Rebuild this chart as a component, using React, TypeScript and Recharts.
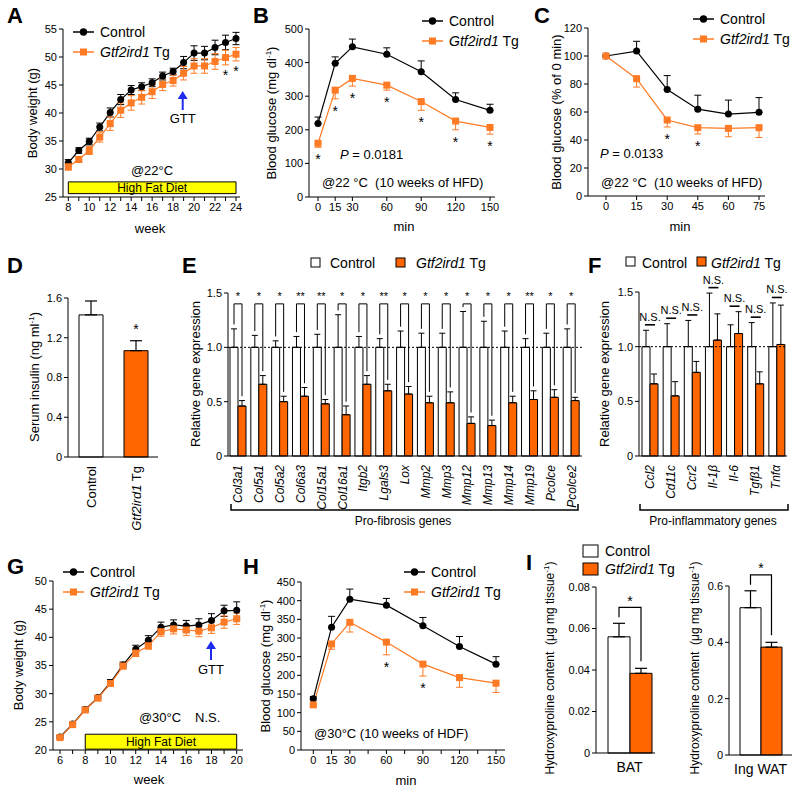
import React from 'react';
import {
  ComposedChart,
  Line,
  Bar,
  Cell,
  XAxis,
  YAxis,
  ErrorBar,
  LabelList,
  ReferenceArea,
  ReferenceLine,
} from 'recharts';

const FONT = '"Liberation Sans", Arial, Helvetica, sans-serif';
const ORANGE = '#ff7a24';
const BAR_ORANGE = '#ff6600';
const BLUE = '#1e2cf0';

// A - body weight at 22 °C
const weeksA = [8, 9, 10, 11, 12, 13, 14, 15, 16, 17, 18, 19, 20, 21, 22, 23, 24];
const controlA = [31.1, 33.3, 34.9, 37.5, 40.1, 42.4, 44.1, 44.7, 45.4, 46.6, 47.4, 49.0, 50.7, 50.7, 51.7, 52.6, 53.3];
const controlAErr = [0.6, 0.5, 0.6, 0.7, 0.8, 0.9, 0.8, 0.7, 0.7, 0.7, 0.6, 1.1, 1.3, 1.2, 1.3, 1.3, 1.1];
const tgA = [30.4, 31.7, 33.3, 35.7, 38.1, 40.5, 41.8, 42.8, 43.8, 45.1, 45.8, 47.1, 48.4, 48.4, 49.2, 49.9, 50.5];
const tgAErr = [0.6, 0.5, 0.7, 0.9, 1.2, 1.3, 1.3, 1.2, 1.2, 1.1, 1.0, 1.2, 1.3, 1.3, 1.4, 1.3, 1.2];
const sigA = ['', '', '', '', '', '', '', '', '', '', '', '', '', '', '', '*', '*'];

// B - GTT at 22 °C
const minB = [0, 15, 30, 60, 90, 120, 150];
const controlB = [219, 398, 447, 425, 373, 290, 258];
const controlBErr = [19, 19, 23, 19, 32, 20, 18];
const tgB = [160, 318, 353, 333, 284, 226, 207];
const tgBErr = [12, 26, 23, 15, 26, 26, 20];
const sigB = ['*', '*', '*', '*', '*', '*', '*'];

// C - ITT at 22 °C
const minC = [0, 15, 30, 45, 60, 75];
const controlC = [100, 103.5, 76, 62, 58.5, 59.8];
const controlCErr = [0, 7, 10, 10, 10, 10.5];
const tgC = [100, 83.8, 54.3, 48.8, 48.3, 48.8];
const tgCErr = [0, 6, 5, 4.5, 6, 7];
const sigC = ['', '', '*', '*', '', ''];

// D - serum insulin
const groupsD = ['Control', 'Gtf2ird1 Tg'];
const insulinD = [1.43, 1.07];
const insulinDErr = [0.14, 0.1];
const sigD = ['', '*'];

// E - pro-fibrosis genes
const genesE = ['Col3a1', 'Col5a1', 'Col5a2', 'Col6a3', 'Col15a1', 'Col16a1', 'Itgb2', 'Lgals3', 'Lox', 'Mmp2', 'Mmp3', 'Mmp12', 'Mmp13', 'Mmp14', 'Mmp19', 'Pcolce', 'Pcolce2'];
const controlE = [1, 1, 1, 1, 1, 1, 1, 1, 1, 1, 1, 1, 1, 1, 1, 1, 1];
const controlEErr = [0.17, 0.11, 0.06, 0.1, 0.12, 0.3, 0.1, 0.08, 0.15, 0.13, 0.13, 0.33, 0.24, 0.15, 0.08, 0.13, 0.17];
const tgE = [0.46, 0.66, 0.5, 0.55, 0.48, 0.38, 0.66, 0.6, 0.57, 0.49, 0.49, 0.3, 0.28, 0.49, 0.52, 0.54, 0.51];
const tgEErr = [0.05, 0.08, 0.05, 0.08, 0.04, 0.08, 0.08, 0.06, 0.07, 0.06, 0.1, 0.06, 0.05, 0.06, 0.08, 0.07, 0.03];
const sigE = ['*', '*', '*', '**', '**', '*', '*', '**', '*', '*', '*', '*', '*', '*', '**', '*', '*'];

// F - pro-inflammatory genes
const genesF = ['Ccl2', 'Cd11c', 'Ccr2', 'Il-1β', 'Il-6', 'Tgfβ1', 'Tnfα'];
const controlF = [1, 1, 1, 1, 1, 1, 1];
const controlFErr = [0.15, 0.21, 0.24, 0.49, 0.2, 0.22, 0.4];
const tgF = [0.66, 0.55, 0.765, 1.06, 1.12, 0.66, 1.02];
const tgFErr = [0.09, 0.13, 0.1, 0.24, 0.2, 0.11, 0.36];
const sigF = ['N.S.', 'N.S.', 'N.S.', 'N.S.', 'N.S.', 'N.S.', 'N.S.'];

// G - body weight at 30 °C
const weeksG = [6, 7, 8, 9, 10, 11, 12, 13, 14, 15, 16, 17, 18, 19, 20];
const controlG = [22.3, 24.6, 27.2, 29.3, 32.0, 35.1, 37.9, 39.5, 41.8, 42.2, 42.0, 42.2, 43.0, 44.7, 44.8];
const controlGErr = [0.3, 0.3, 0.4, 0.4, 0.5, 0.5, 0.7, 0.8, 0.9, 0.9, 1.0, 1.1, 1.2, 1.0, 1.5];
const tgG = [22.2, 24.5, 27.1, 29.2, 31.8, 34.9, 37.2, 38.5, 41.0, 41.5, 41.3, 41.1, 41.7, 42.7, 43.3];
const tgGErr = [0.3, 0.3, 0.4, 0.4, 0.5, 0.5, 0.6, 0.6, 0.8, 0.9, 1.0, 1.0, 1.0, 1.1, 1.0];
const sigG = weeksG.map(() => '');

// H - GTT at 30 °C
const minH = [0, 15, 30, 60, 90, 120, 150];
const controlH = [137, 329, 404, 388, 333, 277, 230];
const controlHErr = [6, 29, 27, 18, 22, 27, 20];
const tgH = [121, 284, 342, 289, 230, 194, 179];
const tgHErr = [6, 14, 26, 34, 32, 26, 25];
const sigH = ['', '', '', '*', '*', '', ''];

// I - hydroxyproline
const tissuesI = ['BAT', 'Ing WAT'];
const controlI = [0.056, 0.523];
const controlIErr = [0.0065, 0.06];
const tgI = [0.0384, 0.383];
const tgIErr = [0.0024, 0.017];
const sigI = ['*', '*'];

type Plot = { x0: number; x1: number; y0: number; y1: number };

// place a chart so that its plot area lands on the given page rectangle
const frame = (p: Plot, yw: number, xh: number, mt = 8, mr = 8) => ({
  pos: { position: 'absolute' as const, left: p.x0 - yw, top: p.y0 - mt },
  width: p.x1 - p.x0 + yw + mr,
  height: p.y1 - p.y0 + mt + xh,
  margin: { top: mt, right: mr, left: 0, bottom: 0 },
});

const axisLine = { stroke: '#000', strokeWidth: 1 };
const tickFont = { fontSize: 11, fill: '#000' };
const rectOf = (l: any) => l.viewBox ?? l;

const circleDot = (d: any) => <circle key={`c-${d.index}`} cx={d.cx} cy={d.cy} r={3.5} fill="#000" />;
const squareDot = (d: any) => (
  <rect key={`s-${d.index}`} x={d.cx - 3.5} y={d.cy - 3.5} width={7} height={7} fill={ORANGE} />
);

type LineProps = {
  p: Plot;
  xs: number[];
  ctrl: number[];
  ctrlErr: number[];
  tg: number[];
  tgErr: number[];
  sig: string[];
  xDomain: [number, number];
  xTicks: number[];
  labelled: number[];
  xPad: { left: number; right: number };
  yDomain: [number, number];
  yTicks: number[];
  twoSided?: boolean;
  starGap?: number;
  band?: { x1: number; x2: number; y1: number; y2: number };
};

function LinePanel(props: LineProps) {
  const { p, xs, ctrl, ctrlErr, tg, tgErr, sig, xDomain, xTicks, labelled, xPad, yDomain, yTicks, twoSided, band } = props;
  const starGap = props.starGap ?? 9;
  const rows = xs.map((x, i) => ({
    x,
    i,
    c: ctrl[i],
    t: tg[i],
    ce: twoSided ? ctrlErr[i] : [0, ctrlErr[i]],
    te: twoSided ? tgErr[i] : [tgErr[i], 0],
  }));
  const ppu = (p.y1 - p.y0) / (yDomain[1] - yDomain[0]);
  const f = frame(p, 32, 30);

  const Star = (l: any) => {
    const i = l.value;
    if (!sig[i]) return null;
    const r = rectOf(l);
    const cy = r.y + tgErr[i] * ppu + starGap;
    return (
      <text x={r.x} y={cy + 7.7} textAnchor="middle" fontSize={14} fill="#000">
        {sig[i]}
      </text>
    );
  };

  return (
    <div style={f.pos}>
      <ComposedChart width={f.width} height={f.height} margin={f.margin} data={rows}>
        <XAxis
          type="number"
          dataKey="x"
          domain={xDomain}
          ticks={xTicks}
          interval={0}
          tickFormatter={(v: number) => (labelled.includes(v) ? String(v) : '')}
          padding={xPad}
          axisLine={axisLine}
          tickLine={axisLine}
          tickSize={4}
          tick={tickFont}
          height={30}
        />
        <YAxis
          type="number"
          domain={yDomain}
          ticks={yTicks}
          interval={0}
          width={32}
          axisLine={axisLine}
          tickLine={axisLine}
          tickSize={4}
          tick={tickFont}
        />
        {band && (
          <ReferenceArea
            x1={band.x1}
            x2={band.x2}
            y1={band.y1}
            y2={band.y2}
            fill="#ffff00"
            fillOpacity={1}
            stroke="#000"
            strokeWidth={1}
            label={{ value: 'High Fat Diet', position: 'center', fill: '#000', fontSize: 12 }}
          />
        )}
        <Line
          dataKey="c"
          stroke="#000"
          strokeWidth={1.2}
          dot={circleDot}
          activeDot={false}
          isAnimationActive={false}
        >
          <ErrorBar dataKey="ce" width={3.5} stroke="#000" strokeWidth={1} direction="y" />
        </Line>
        <Line
          dataKey="t"
          stroke={ORANGE}
          strokeWidth={1.2}
          dot={squareDot}
          activeDot={false}
          isAnimationActive={false}
        >
          <ErrorBar dataKey="te" width={3.5} stroke={ORANGE} strokeWidth={1} direction="y" />
          <LabelList dataKey="i" content={Star} />
        </Line>
      </ComposedChart>
    </div>
  );
}

const fmt = (digits: number) => (v: number) => (v === 0 ? '0' : v.toFixed(digits));

const GeneTick = (t: any) => (
  <text
    transform={`translate(${t.x + 4},${t.y + 3}) rotate(-90)`}
    textAnchor="end"
    fontSize={12}
    fontStyle="italic"
    fill="#000"
  >
    {t.payload.value}
  </text>
);

const GroupTick = (t: any) => (
  <text transform={`translate(${t.x + 5},${t.y + 3}) rotate(-90)`} textAnchor="end" fontSize={13} fill="#000">
    {t.payload.value === 'Control' ? (
      'Control'
    ) : (
      <>
        <tspan fontStyle="italic">Gtf2ird1</tspan> Tg
      </>
    )}
  </text>
);

function PanelD() {
  const p = { x0: 68, x1: 158, y0: 298, y1: 457 };
  const f = frame(p, 32, 100);
  const rows = groupsD.map((g, i) => ({ name: g, i, v: insulinD[i], e: [0, insulinDErr[i]] }));
  const Star = (l: any) => {
    const i = l.value;
    if (!sigD[i]) return null;
    const r = rectOf(l);
    const top = r.y - insulinDErr[i] * (r.height / insulinD[i]);
    return (
      <text x={r.x + r.width / 2} y={top - 14 + 7.7} textAnchor="middle" fontSize={14}>
        {sigD[i]}
      </text>
    );
  };
  return (
    <div style={f.pos}>
      <ComposedChart width={f.width} height={f.height} margin={f.margin} data={rows}>
        <XAxis dataKey="name" interval={0} tickLine={false} axisLine={axisLine} tickSize={4} tick={GroupTick} height={100} />
        <YAxis
          domain={[0, 1.6]}
          ticks={[0, 0.4, 0.8, 1.2, 1.6]}
          interval={0}
          tickFormatter={fmt(1)}
          width={32}
          axisLine={axisLine}
          tickLine={axisLine}
          tickSize={4}
          tick={tickFont}
        />
        <Bar dataKey="v" barSize={24} stroke="#000" strokeWidth={1} isAnimationActive={false}>
          {rows.map((r) => (
            <Cell key={r.name} fill={r.i === 0 ? '#fff' : BAR_ORANGE} />
          ))}
          <ErrorBar dataKey="e" width={6} stroke="#000" strokeWidth={1.2} direction="y" />
          <LabelList dataKey="i" content={Star} />
        </Bar>
      </ComposedChart>
    </div>
  );
}

function PanelE() {
  const p = { x0: 228, x1: 582, y0: 293, y1: 456 };
  const f = frame(p, 30, 62, 22);
  const rows = genesE.map((g, i) => ({
    name: g,
    i,
    c: controlE[i],
    t: tgE[i],
    ce: [0, controlEErr[i]],
    te: [0, tgEErr[i]],
  }));
  const Bracket = (l: any) => {
    const i = l.value;
    const r = rectOf(l);
    const ppu = r.height / tgE[i];
    const base = r.y + r.height;
    const lx = r.x - r.width / 2;
    const rx = r.x + r.width / 2;
    const top = base - 1.4 * ppu;
    const ly = base - (controlE[i] + controlEErr[i] + 0.04) * ppu;
    const ry = base - (tgE[i] + tgEErr[i] + 0.04) * ppu;
    return (
      <g>
        <polyline points={`${lx},${ly} ${lx},${top} ${rx},${top} ${rx},${ry}`} fill="none" stroke="#000" strokeWidth={1} />
        <text x={(lx + rx) / 2} y={top - 4} textAnchor="middle" fontSize={11}>
          {sigE[i]}
        </text>
      </g>
    );
  };
  return (
    <div style={f.pos}>
      <ComposedChart width={f.width} height={f.height} margin={f.margin} data={rows} barGap={0} barSize={8}>
        <XAxis dataKey="name" interval={0} tickLine={false} axisLine={axisLine} tickSize={4} tick={GeneTick} height={62} />
        <YAxis
          domain={[0, 1.5]}
          ticks={[0, 0.5, 1, 1.5]}
          interval={0}
          tickFormatter={fmt(1)}
          width={30}
          axisLine={axisLine}
          tickLine={axisLine}
          tickSize={4}
          tick={tickFont}
        />
        <Bar dataKey="c" fill="#fff" stroke="#000" strokeWidth={1} barSize={8} isAnimationActive={false}>
          <ErrorBar dataKey="ce" width={3} stroke="#000" strokeWidth={1} direction="y" />
        </Bar>
        <Bar dataKey="t" fill={BAR_ORANGE} stroke="#000" strokeWidth={1} barSize={8} isAnimationActive={false}>
          <ErrorBar dataKey="te" width={3} stroke="#000" strokeWidth={1} direction="y" />
          <LabelList dataKey="i" content={Bracket} />
        </Bar>
        <ReferenceLine y={1} stroke="#000" strokeDasharray="2 2" />
      </ComposedChart>
    </div>
  );
}

function PanelF() {
  const p = { x0: 639, x1: 787, y0: 292, y1: 456 };
  const f = frame(p, 30, 62, 22, 10);
  const rows = genesF.map((g, i) => ({
    name: g,
    i,
    c: controlF[i],
    t: tgF[i],
    ce: [0, controlFErr[i]],
    te: [0, tgFErr[i]],
  }));
  const NsMark = (l: any) => {
    const i = l.value;
    const r = rectOf(l);
    const ppu = r.height / tgF[i];
    const base = r.y + r.height;
    const lvl = Math.max(controlF[i] + controlFErr[i], tgF[i] + tgFErr[i]) + 0.05;
    const y = base - lvl * ppu;
    const lx = r.x - r.width / 2;
    const rx = r.x + r.width / 2;
    return (
      <g>
        <line x1={lx - 1} x2={rx + 1} y1={y} y2={y} stroke="#000" strokeWidth={1.6} />
        <text x={(lx + rx) / 2} y={y - 4} textAnchor="middle" fontSize={11}>
          {sigF[i]}
        </text>
      </g>
    );
  };
  return (
    <div style={f.pos}>
      <ComposedChart width={f.width} height={f.height} margin={f.margin} data={rows} barGap={0} barSize={8}>
        <XAxis dataKey="name" interval={0} tickLine={false} axisLine={axisLine} tickSize={4} tick={GeneTick} height={62} />
        <YAxis
          domain={[0, 1.5]}
          ticks={[0, 0.5, 1, 1.5]}
          interval={0}
          tickFormatter={fmt(1)}
          width={30}
          axisLine={axisLine}
          tickLine={axisLine}
          tickSize={4}
          tick={tickFont}
        />
        <Bar dataKey="c" fill="#fff" stroke="#000" strokeWidth={1} barSize={8} isAnimationActive={false}>
          <ErrorBar dataKey="ce" width={3} stroke="#000" strokeWidth={1} direction="y" />
        </Bar>
        <Bar dataKey="t" fill={BAR_ORANGE} stroke="#000" strokeWidth={1} barSize={8} isAnimationActive={false}>
          <ErrorBar dataKey="te" width={3} stroke="#000" strokeWidth={1} direction="y" />
          <LabelList dataKey="i" content={NsMark} />
        </Bar>
        <ReferenceLine y={1} stroke="#000" strokeDasharray="2 2" />
      </ComposedChart>
    </div>
  );
}

function PanelI({ i, p, domain, ticks, digits, size, pad }: {
  i: number;
  p: Plot;
  domain: [number, number];
  ticks: number[];
  digits: number;
  size: number;
  pad: number;
}) {
  const f = frame(p, 36, 34, 34);
  const rows = [{ name: tissuesI[i], i, c: controlI[i], t: tgI[i], ce: [0, controlIErr[i]], te: [0, tgIErr[i]] }];
  const Bracket = (l: any) => {
    const k = l.value;
    const r = rectOf(l);
    const ppu = r.height / tgI[k];
    const base = r.y + r.height;
    const cTop = base - (controlI[k] + controlIErr[k]) * ppu;
    const tTop = base - (tgI[k] + tgIErr[k]) * ppu;
    const lx = r.x - r.width / 2;
    const rx = r.x + r.width / 2;
    const top = cTop - 16;
    return (
      <g>
        <polyline
          points={`${lx},${cTop - 6} ${lx},${top} ${rx},${top} ${rx},${tTop - 7}`}
          fill="none"
          stroke="#000"
          strokeWidth={1.2}
        />
        <text x={(lx + rx) / 2} y={top - 9 + 7.7} textAnchor="middle" fontSize={14}>
          {sigI[k]}
        </text>
      </g>
    );
  };
  return (
    <div style={f.pos}>
      <ComposedChart width={f.width} height={f.height} margin={f.margin} data={rows} barGap={0} barSize={size}>
        <XAxis
          dataKey="name"
          interval={0}
          tickLine={false}
          axisLine={axisLine}
          tickSize={4}
          tickMargin={5}
          tick={{ fontSize: 14, fill: '#000' }}
          padding={{ left: pad, right: 0 }}
          height={34}
        />
        <YAxis
          domain={domain}
          ticks={ticks}
          interval={0}
          tickFormatter={fmt(digits)}
          width={36}
          axisLine={axisLine}
          tickLine={axisLine}
          tickSize={4}
          tick={tickFont}
        />
        <Bar dataKey="c" fill="#fff" stroke="#000" strokeWidth={1} barSize={size} isAnimationActive={false}>
          <ErrorBar dataKey="ce" width={6} stroke="#000" strokeWidth={1.2} direction="y" />
        </Bar>
        <Bar dataKey="t" fill={BAR_ORANGE} stroke="#000" strokeWidth={1} barSize={size} isAnimationActive={false}>
          <ErrorBar dataKey="te" width={6} stroke="#000" strokeWidth={1.2} direction="y" />
          <LabelList dataKey="i" content={Bracket} />
        </Bar>
      </ComposedChart>
    </div>
  );
}

const VTitle = ({ x, y, size = 13, children }: any) => (
  <text transform={`translate(${x},${y}) rotate(-90)`} textAnchor="middle" fontSize={size} fill="#000">
    {children}
  </text>
);

const LineLegend = ({ x, y }: { x: number; y: number }) => (
  <g fontSize={14} fill="#000">
    <line x1={x} x2={x + 21} y1={y} y2={y} stroke="#000" strokeWidth={1.5} />
    <circle cx={x + 10.5} cy={y} r={3.7} fill="#000" />
    <text x={x + 27} y={y + 5}>Control</text>
    <line x1={x} x2={x + 21} y1={y + 20} y2={y + 20} stroke={ORANGE} strokeWidth={1.5} />
    <rect x={x + 7} y={y + 16.5} width={7} height={7} fill={ORANGE} />
    <text x={x + 27} y={y + 25}>
      <tspan fontStyle="italic">Gtf2ird1</tspan> Tg
    </text>
  </g>
);

const Arrow = ({ x, head, tail }: { x: number; head: number; tail: number }) => (
  <g>
    <line x1={x} x2={x} y1={tail} y2={head + 7} stroke={BLUE} strokeWidth={2} />
    <polygon points={`${x - 5},${head + 8} ${x + 5},${head + 8} ${x},${head}`} fill={BLUE} />
  </g>
);

const Letter = ({ x, y, c }: { x: number; y: number; c: string }) => (
  <text x={x} y={y} fontSize={22} fontWeight="bold" fill="#000">
    {c}
  </text>
);

function Overlay() {
  const pre = { whiteSpace: 'pre' as const };
  return (
    <svg
      width={800}
      height={792}
      style={{ position: 'absolute', left: 0, top: 0, pointerEvents: 'none' }}
      fontFamily={FONT}
    >
      <Letter x={7} y={23} c="A" />
      <Letter x={253} y={23} c="B" />
      <Letter x={534} y={23} c="C" />
      <Letter x={7} y={273} c="D" />
      <Letter x={182} y={273} c="E" />
      <Letter x={588} y={273} c="F" />
      <Letter x={7} y={574} c="G" />
      <Letter x={243} y={574} c="H" />
      <Letter x={526} y={570} c="I" />

      {/* A */}
      <LineLegend x={73} y={32} />
      <text x={152} y={175} textAnchor="middle" fontSize={13}>@22°C</text>
      <Arrow x={182.7} head={91} tail={110} />
      <text x={182.7} y={123} textAnchor="middle" fontSize={13}>GTT</text>
      <VTitle x={37} y={113}>Body weight (g)</VTitle>
      <text x={150} y={233} textAnchor="middle" fontSize={13}>week</text>

      {/* B */}
      <LineLegend x={422} y={21} />
      <text x={340} y={159} fontSize={13}>
        <tspan fontStyle="italic">P</tspan> = 0.0181
      </text>
      <text x={322} y={187} fontSize={13} style={pre}>@22 °C  (10 weeks of HFD)</text>
      <VTitle x={276} y={113}>
        Blood glucose (mg dl<tspan dy={-5} fontSize={8}>-1</tspan>
        <tspan dy={5}>)</tspan>
      </VTitle>
      <text x={404} y={231} textAnchor="middle" fontSize={13}>min</text>

      {/* C */}
      <LineLegend x={693} y={19} />
      <text x={600} y={158} fontSize={13}>
        <tspan fontStyle="italic">P</tspan> = 0.0133
      </text>
      <text x={601} y={187} fontSize={13} style={pre}>@22 °C  (10 weeks of HFD)</text>
      <VTitle x={561} y={112}>Blood glucose (% of 0 min)</VTitle>
      <text x={680} y={231} textAnchor="middle" fontSize={13}>min</text>

      {/* D */}
      <VTitle x={39} y={377}>
        Serum insulin (ng ml<tspan dy={-5} fontSize={8}>-1</tspan>
        <tspan dy={5}>)</tspan>
      </VTitle>

      {/* E */}
      <rect x={311} y={258} width={9} height={9} fill="#fff" stroke="#000" strokeWidth={1} />
      <text x={330} y={268} fontSize={14}>Control</text>
      <rect x={396} y={258} width={9} height={9} fill={BAR_ORANGE} stroke="#000" strokeWidth={1} />
      <text x={416} y={268} fontSize={14}>
        <tspan fontStyle="italic">Gtf2ird1</tspan> Tg
      </text>
      <VTitle x={200} y={374}>Relative gene expression</VTitle>
      <path d="M231,504 L231,510 L578,510 L578,504" fill="none" stroke="#000" strokeWidth={1.5} />
      <text x={403} y={525} textAnchor="middle" fontSize={12}>Pro-fibrosis genes</text>

      {/* F */}
      <rect x={626} y={257} width={9} height={9} fill="#fff" stroke="#000" strokeWidth={1} />
      <text x={642} y={268} fontSize={14}>Control</text>
      <rect x={697} y={257} width={9} height={9} fill={BAR_ORANGE} stroke="#000" strokeWidth={1} />
      <text x={711} y={268} fontSize={14}>
        <tspan fontStyle="italic">Gtf2ird1</tspan> Tg
      </text>
      <VTitle x={609} y={374}>Relative gene expression</VTitle>
      <path d="M640,504 L640,510 L788,510 L788,504" fill="none" stroke="#000" strokeWidth={1.5} />
      <text x={713} y={525} textAnchor="middle" fontSize={12}>Pro-inflammatory genes</text>

      {/* G */}
      <LineLegend x={63} y={572} />
      <text x={160} y={722} textAnchor="middle" fontSize={13}>@30°C</text>
      <text x={195} y={722} fontSize={13}>N.S.</text>
      <Arrow x={211} head={641} tail={660} />
      <text x={211} y={674} textAnchor="middle" fontSize={13}>GTT</text>
      <VTitle x={23} y={665}>Body weight (g)</VTitle>
      <text x={149} y={784} textAnchor="middle" fontSize={13}>week</text>

      {/* H */}
      <LineLegend x={404} y={572} />
      <text x={314} y={738} fontSize={13}>@30°C (10 weeks of HDF)</text>
      <VTitle x={270} y={666}>
        Blood glucose (mg dl<tspan dy={-5} fontSize={8}>-1</tspan>
        <tspan dy={5}>)</tspan>
      </VTitle>
      <text x={406} y={785} textAnchor="middle" fontSize={13}>min</text>

      {/* I */}
      <rect x={583} y={545} width={15} height={12} fill="#fff" stroke="#000" strokeWidth={1} />
      <text x={605} y={556} fontSize={14}>Control</text>
      <rect x={583} y={563} width={15} height={12} fill={BAR_ORANGE} stroke="#000" strokeWidth={1} />
      <text x={605} y={574} fontSize={14}>
        <tspan fontStyle="italic">Gtf2ird1</tspan> Tg
      </text>
      <VTitle x={554} y={668} size={12}>
        <tspan style={pre}>Hydroxyproline content  (μg mg tissue</tspan>
        <tspan dy={-5} fontSize={8}>-1</tspan>
        <tspan dy={5}>)</tspan>
      </VTitle>
      <VTitle x={699} y={668} size={12}>
        <tspan style={pre}>Hydroxyproline content  (μg mg tissue</tspan>
        <tspan dy={-5} fontSize={8}>-1</tspan>
        <tspan dy={5}>)</tspan>
      </VTitle>
    </svg>
  );
}

export default function App() {
  return (
    <div
      style={{
        position: 'absolute',
        left: 0,
        top: 0,
        width: 800,
        height: 792,
        background: '#fff',
        fontFamily: FONT,
        overflow: 'hidden',
      }}
    >
      <LinePanel
        p={{ x0: 63, x1: 240, y0: 29, y1: 197 }}
        xs={weeksA}
        ctrl={controlA}
        ctrlErr={controlAErr}
        tg={tgA}
        tgErr={tgAErr}
        sig={sigA}
        xDomain={[8, 24]}
        xTicks={weeksA}
        labelled={[8, 10, 12, 14, 16, 18, 20, 22, 24]}
        xPad={{ left: 5.3, right: 4 }}
        yDomain={[25, 55]}
        yTicks={[25, 30, 35, 40, 45, 50, 55]}
        twoSided
        starGap={7}
        band={{ x1: 8, x2: 24, y1: 25.6, y2: 27.7 }}
      />
      <LinePanel
        p={{ x0: 309, x1: 495, y0: 29, y1: 197 }}
        xs={minB}
        ctrl={controlB}
        ctrlErr={controlBErr}
        tg={tgB}
        tgErr={tgBErr}
        sig={sigB}
        xDomain={[0, 150]}
        xTicks={minB}
        labelled={minB}
        xPad={{ left: 9, right: 5 }}
        yDomain={[0, 500]}
        yTicks={[0, 100, 200, 300, 400, 500]}
      />
      <LinePanel
        p={{ x0: 588, x1: 765, y0: 28, y1: 196 }}
        xs={minC}
        ctrl={controlC}
        ctrlErr={controlCErr}
        tg={tgC}
        tgErr={tgCErr}
        sig={sigC}
        xDomain={[0, 75]}
        xTicks={minC}
        labelled={minC}
        xPad={{ left: 18, right: 6 }}
        yDomain={[0, 120]}
        yTicks={[0, 20, 40, 60, 80, 100, 120]}
      />
      <PanelD />
      <PanelE />
      <PanelF />
      <LinePanel
        p={{ x0: 53, x1: 243, y0: 581, y1: 750 }}
        xs={weeksG}
        ctrl={controlG}
        ctrlErr={controlGErr}
        tg={tgG}
        tgErr={tgGErr}
        sig={sigG}
        xDomain={[6, 20]}
        xTicks={weeksG}
        labelled={[6, 8, 10, 12, 14, 16, 18, 20]}
        xPad={{ left: 7, right: 6.3 }}
        yDomain={[20, 50]}
        yTicks={[20, 25, 30, 35, 40, 45, 50]}
        twoSided
        band={{ x1: 8, x2: 20, y1: 20.15, y2: 22.8 }}
      />
      <LinePanel
        p={{ x0: 301, x1: 505, y0: 582, y1: 750 }}
        xs={minH}
        ctrl={controlH}
        ctrlErr={controlHErr}
        tg={tgH}
        tgErr={tgHErr}
        sig={sigH}
        xDomain={[0, 150]}
        xTicks={[0, 15, 30, 45, 60, 75, 90, 105, 120, 135, 150]}
        labelled={minH}
        xPad={{ left: 12.3, right: 9 }}
        yDomain={[0, 450]}
        yTicks={[0, 50, 100, 150, 200, 250, 300, 350, 400, 450]}
      />
      <PanelI
        i={0}
        p={{ x0: 596, x1: 655, y0: 587, y1: 753 }}
        domain={[0, 0.08]}
        ticks={[0, 0.02, 0.04, 0.06, 0.08]}
        digits={2}
        size={22}
        pad={8}
      />
      <PanelI
        i={1}
        p={{ x0: 729, x1: 792, y0: 586, y1: 755 }}
        domain={[0, 0.6]}
        ticks={[0, 0.2, 0.4, 0.6]}
        digits={1}
        size={21}
        pad={0}
      />
      <Overlay />
    </div>
  );
}
